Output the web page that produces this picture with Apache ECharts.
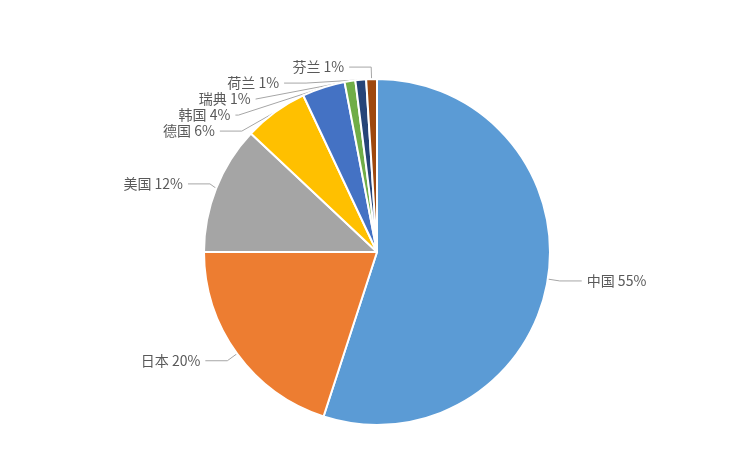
<!DOCTYPE html>
<html><head><meta charset="utf-8">
<script src="https://cdn.jsdelivr.net/npm/echarts@6/dist/echarts.min.js"></script>
<style>html,body{margin:0;padding:0;background:#fff}#c{width:751px;height:451px}</style>
</head><body><div id="c"></div>
<script>
const categories = ['中国','日本','美国','德国','韩国','瑞典','荷兰','芬兰'];
const values = [55,20,12,6,4,1,1,1];
const colors = ['#5B9BD5','#ED7D31','#A5A5A5','#FFC000','#4472C4','#70AD47','#264478','#9E480E'];
const chart = echarts.init(document.getElementById('c'));
chart.setOption({
  animation:false,
  color: colors,
  series:[{
    type:'pie',
    center:[377,252],
    radius:173,
    startAngle:90,
    clockwise:true,
    data: categories.map((n,i)=>({name:n,value:values[i]})),
    itemStyle:{borderColor:'#fff',borderWidth:2},
    label:{formatter:'{b} {c}%',color:'#595959',fontSize:14,fontFamily:'"Noto Sans CJK SC", sans-serif'},
    labelLine:{length:12,length2:22,lineStyle:{color:'#A6A6A6',width:1}}
  }]
});
</script></body></html>
